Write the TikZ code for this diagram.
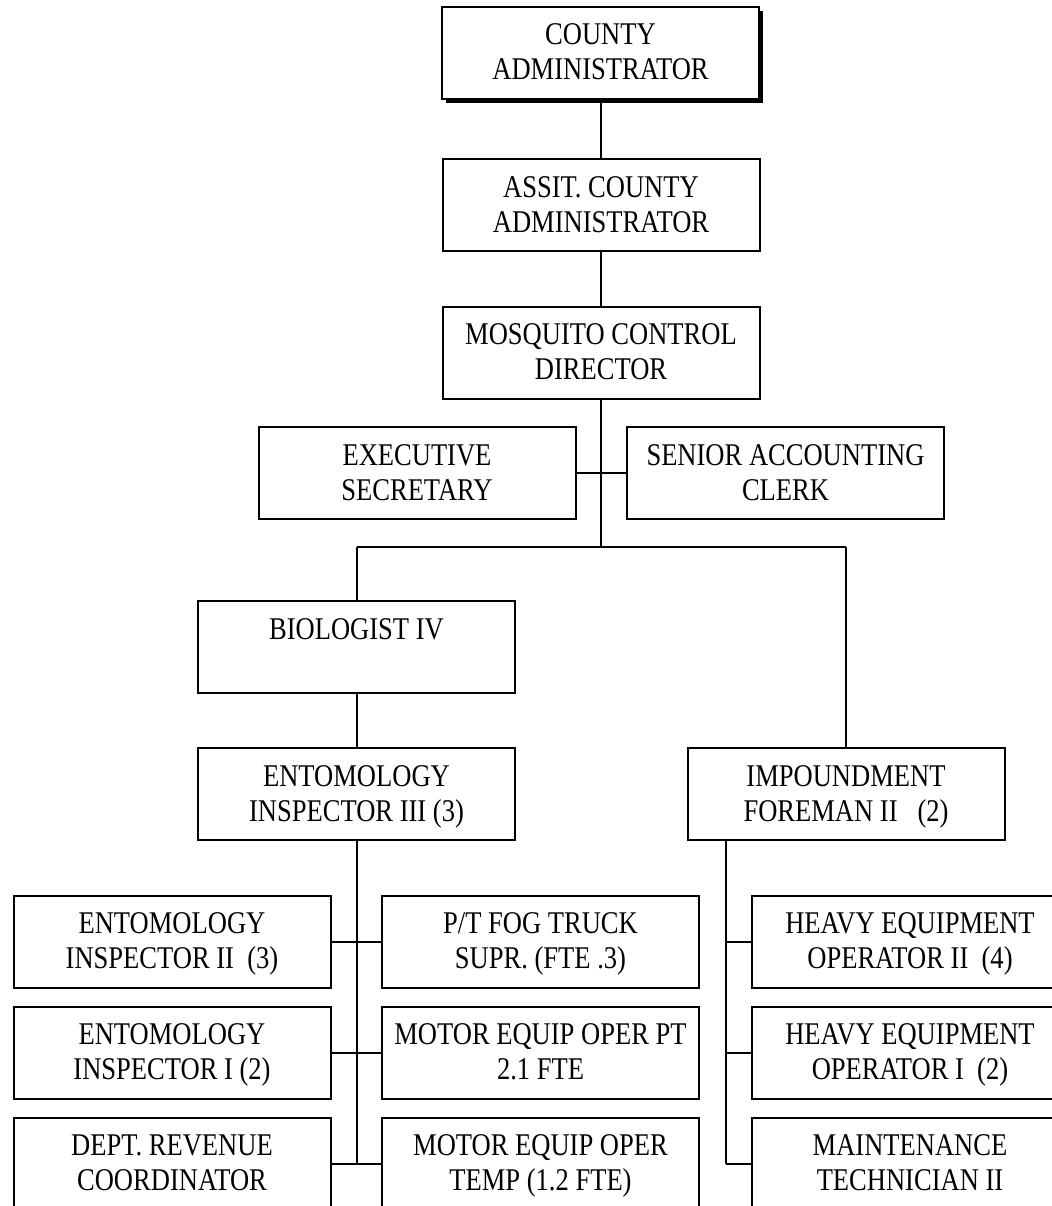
\documentclass[tikz,border=0pt]{standalone}
\usepackage{fontspec}
\setmainfont{Liberation Serif}[FakeStretch=0.84]
\usetikzlibrary{shadows}

\tikzset{
  post/.style={draw=black, line width=1pt, fill=white, rectangle,
    minimum width=158.5pt, minimum height=46pt, inner sep=0pt,
    align=center, font=\fontsize{15.8pt}{17.5pt}\selectfont,
    text height=27pt, text depth=-10.2pt},
  head/.style={post, drop shadow={shadow xshift=2pt, shadow yshift=-2pt,
    fill=black, opacity=1}},
  link/.style={draw=black, line width=1pt}
}

\begin{document}
\begin{tikzpicture}[x=0.5pt, y=-0.5pt]
\useasboundingbox (0,0) rectangle (1052,1206);

% chain of command
\node[head] (ca)  at (600.5,52.5) {COUNTY\\ADMINISTRATOR};
\node[post] (aca) at (601,205)    {ASSIT. COUNTY\\ADMINISTRATOR};
\node[post] (mcd) at (601,352.5)  {MOSQUITO CONTROL\\DIRECTOR};

% staff of the director
\node[post] (es)  at (417,473)    {EXECUTIVE\\SECRETARY};
\node[post] (sac) at (785.5,473)  {SENIOR ACCOUNTING\\CLERK};

% divisions
\node[post] (bio) at (356.5,647)  {BIOLOGIST IV\\\mbox{}};
\node[post] (ei3) at (356.5,794)  {ENTOMOLOGY\\INSPECTOR III (3)};
\node[post] (imp) at (846,794)    {IMPOUNDMENT\\FOREMAN II \ \ (2)};

% entomology staff
\node[post] (ei2) at (172,941.5)   {ENTOMOLOGY\\INSPECTOR II \ (3)};
\node[post] (ei1) at (172,1052.5)  {ENTOMOLOGY\\INSPECTOR I (2)};
\node[post] (drc) at (172,1163.5)  {DEPT. REVENUE\\COORDINATOR};
\node[post] (fog) at (540.5,941.5) {P/T FOG TRUCK\\SUPR. (FTE .3)};
\node[post] (mpt) at (540.5,1052.5){MOTOR EQUIP OPER PT\\2.1 FTE};
\node[post] (mtp) at (540.5,1163.5){MOTOR EQUIP OPER\\TEMP (1.2 FTE)};

% impoundment staff
\node[post] (he2) at (910,941.5)   {HEAVY EQUIPMENT\\OPERATOR II \ (4)};
\node[post] (he1) at (910,1052.5)  {HEAVY EQUIPMENT\\OPERATOR I \ (2)};
\node[post] (mt2) at (910,1163.5)  {MAINTENANCE\\TECHNICIAN II};

% junction points
\coordinate (top)  at (601,547);
\coordinate (barL) at (356.5,547);
\coordinate (barR) at (846,547);
\coordinate (trL)  at (356.5,1163.5);
\coordinate (trR)  at (726,1163.5);

% chain of command links
\path[link] (ca.south -| aca.north) -- (aca.north);
\path[link] (aca.south) -- (mcd.north);
\path[link] (mcd.south) -- (top);
\path[link] (es.east) -- (sac.west);
\path[link] (barL) -- (barR);
\path[link] (barL) -- (bio.north);
\path[link] (bio.south) -- (ei3.north);
\path[link] (barR) -- (imp.north);

% entomology trunk and branches
\path[link] (ei3.south) -- (trL);
\path[link] (ei2.east) -- (fog.west);
\path[link] (ei1.east) -- (mpt.west);
\path[link] (drc.east) -- (mtp.west);

% impoundment trunk and branches
\path[link] (imp.south -| trR) -- (trR);
\path[link] (he2.west -| trR) -- (he2.west);
\path[link] (he1.west -| trR) -- (he1.west);
\path[link] (trR) -- (mt2.west);
\end{tikzpicture}
\end{document}
